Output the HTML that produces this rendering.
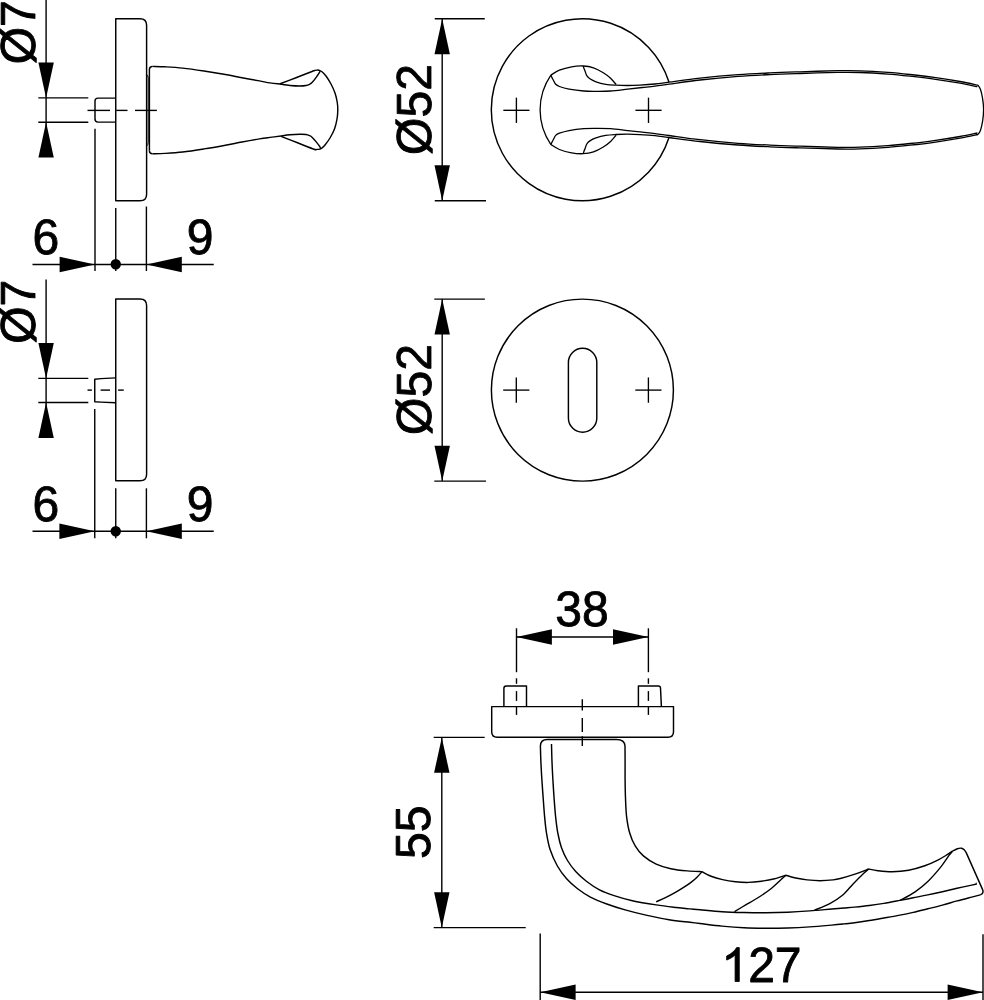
<!DOCTYPE html>
<html><head><meta charset="utf-8"><title>Drawing</title>
<style>
html,body{margin:0;padding:0;background:#fff;}
body{width:984px;height:1000px;overflow:hidden;}
svg{display:block;will-change:transform;}
.m{fill:none;stroke:#000;stroke-width:1.45;stroke-linejoin:round;stroke-linecap:butt;}
.d{fill:none;stroke:#000;stroke-width:1.3;}
.n{fill:none;stroke:#000;stroke-width:1.3;}
.t{fill:none;stroke:#000;stroke-width:1.4;}
.c{fill:none;stroke:#000;stroke-width:1.0;}
.x{fill:none;stroke:#000;stroke-width:1.35;}
.f{fill:#000;stroke:none;}
.g{fill:#000;stroke:#000;stroke-width:35;stroke-linejoin:round;}
text{font-family:"Liberation Sans",sans-serif;fill:#000;stroke:#000;stroke-width:0.8;stroke-linejoin:round;text-rendering:geometricPrecision;}
</style></head><body>
<svg width="984" height="1000" viewBox="0 0 984 1000">
<rect x="0" y="0" width="984" height="1000" fill="#fff"/>
<path class="m" d="M115.75,18.75 H140 Q146.6,18.75 146.6,25.35 V194.15 Q146.6,200.75 140,200.75 H115.75 Z"/>
<path class="m" d="M115.75,98.1 H98 Q95,98.1 95,101.1 V119.1 Q95,122.1 98,122.1 H115.75"/>
<path class="t" d="M87.50,110.40 L110.00,110.40"/>
<path class="t" d="M116.25,110.40 L127.50,110.40"/>
<path class="t" d="M135.00,110.40 L156.90,110.40"/>
<path class="m" d="M149.4,150.8 V69.4 Q149.4,66.4 152.5,66.4"/>
<path class="m" d="M149.4,150.8 Q149.4,153.8 152.5,153.8"/>
<path class="m" d="M152.50,66.40 C154.58,66.47 159.97,66.52 165.00,66.80 C170.03,67.08 176.20,67.40 182.70,68.10 C189.20,68.80 196.88,69.93 204.00,71.00 C211.12,72.07 219.07,73.38 225.40,74.50 C231.73,75.62 236.32,76.63 242.00,77.70 C247.68,78.77 254.83,80.03 259.50,80.90 C264.17,81.77 266.67,82.38 270.00,82.90 C273.33,83.42 277.92,83.82 279.50,84.00"/>
<path class="m" d="M152.50,153.80 C154.58,153.73 159.97,153.70 165.00,153.40 C170.03,153.10 176.20,152.75 182.70,152.00 C189.20,151.25 196.88,150.03 204.00,148.90 C211.12,147.77 219.07,146.35 225.40,145.20 C231.73,144.05 236.32,143.05 242.00,142.00 C247.68,140.95 254.83,139.67 259.50,138.90 C264.17,138.13 266.42,137.88 270.00,137.40 C273.58,136.92 279.17,136.23 281.00,136.00"/>
<path class="m" d="M279.50,84.00 C281.25,84.25 286.58,85.17 290.00,85.50 C293.42,85.83 297.33,86.00 300.00,86.00 C302.67,86.00 304.42,85.78 306.00,85.50 C307.58,85.22 308.50,84.78 309.50,84.30 C310.50,83.82 310.92,83.72 312.00,82.60 C313.08,81.48 314.75,79.32 316.00,77.60 C317.25,75.88 318.78,73.42 319.50,72.30 C320.22,71.18 320.17,71.13 320.30,70.90"/>
<path class="m" d="M281.00,136.00 C282.50,135.80 286.83,135.08 290.00,134.80 C293.17,134.52 297.33,134.35 300.00,134.30 C302.67,134.25 304.42,134.28 306.00,134.50 C307.58,134.72 308.50,135.15 309.50,135.60 C310.50,136.05 310.92,136.20 312.00,137.20 C313.08,138.20 314.75,140.10 316.00,141.60 C317.25,143.10 318.73,145.03 319.50,146.20 C320.27,147.37 320.42,148.20 320.60,148.60"/>
<path class="m" d="M279.50,84.00 C282.25,82.95 290.58,79.78 296.00,77.70 C301.42,75.62 308.83,72.72 312.00,71.50 C315.17,70.28 314.17,70.63 315.00,70.40 C315.83,70.17 316.33,70.12 317.00,70.10 C317.67,70.08 318.17,70.02 319.00,70.30 C319.83,70.58 320.83,70.85 322.00,71.80 C323.17,72.75 324.50,73.97 326.00,76.00 C327.50,78.03 329.50,81.17 331.00,84.00 C332.50,86.83 333.97,90.00 335.00,93.00 C336.03,96.00 336.73,99.17 337.20,102.00 C337.67,104.83 337.83,107.17 337.80,110.00 C337.77,112.83 337.55,115.83 337.00,119.00 C336.45,122.17 335.67,125.83 334.50,129.00 C333.33,132.17 331.58,135.33 330.00,138.00 C328.42,140.67 326.33,143.33 325.00,145.00 C323.67,146.67 322.83,147.32 322.00,148.00 C321.17,148.68 320.83,148.87 320.00,149.10 C319.17,149.33 318.00,149.38 317.00,149.40 C316.00,149.42 317.25,150.30 314.00,149.20 C310.75,148.10 303.00,144.93 297.50,142.80 C292.00,140.67 283.75,137.47 281.00,136.40"/>
<path class="c" d="M146.6,74.4 Q148.2,75.4 148.2,78 V142.4 Q148.2,145 146.6,146"/>
<path class="t" d="M46.10,0.00 L46.10,157.00"/>
<path class="f" d="M46.10,97.90 L38.40,62.50 L53.80,62.50 Z"/>
<path class="f" d="M46.10,122.20 L53.80,157.60 L38.40,157.60 Z"/>
<path class="t" d="M38.30,97.90 L88.30,97.90"/>
<path class="t" d="M38.30,122.20 L88.30,122.20"/>
<path class="t" d="M95.00,128.75 L95.00,271.00"/>
<path class="t" d="M115.75,208.00 L115.75,271.00"/>
<path class="t" d="M146.40,206.50 L146.40,271.00"/>
<path class="t" d="M32.50,264.50 L213.75,264.50"/>
<path class="f" d="M95.00,264.50 L59.60,272.20 L59.60,256.80 Z"/>
<path class="f" d="M146.40,264.50 L181.80,256.80 L181.80,272.20 Z"/>
<circle class="f" cx="115.75" cy="264.3" r="5.2"/>
<text transform="translate(45.90,253.90) rotate(0) scale(1.045,1.08)" text-anchor="middle" font-size="46">6</text>
<text transform="translate(200.00,253.90) rotate(0) scale(1.045,1.08)" text-anchor="middle" font-size="46">9</text>
<text transform="translate(35.00,32.30) rotate(-90) scale(1.045,1.07)" text-anchor="middle" font-size="46">Ø7</text>
<path class="m" d="M115.75,299.00 H140 Q146.6,299.00 146.6,305.60 V474.15 Q146.6,480.75 140,480.75 H115.75 Z"/>
<path class="m" d="M115.75,377.9 L101,378.6 L94.75,379.3 V401.8 L101,402.1 L115.75,402.7"/>
<path class="t" d="M87.50,390.10 L91.90,390.10"/>
<path class="t" d="M100.60,390.10 L110.00,390.10"/>
<path class="t" d="M118.10,390.10 L123.75,390.10"/>
<path class="t" d="M46.10,279.40 L46.10,437.50"/>
<path class="f" d="M46.10,378.40 L38.40,343.00 L53.80,343.00 Z"/>
<path class="f" d="M46.10,402.50 L53.80,437.90 L38.40,437.90 Z"/>
<path class="t" d="M38.30,378.40 L88.30,378.40"/>
<path class="t" d="M38.30,402.50 L88.30,402.50"/>
<path class="t" d="M94.75,409.00 L94.75,538.30"/>
<path class="t" d="M115.75,488.30 L115.75,538.30"/>
<path class="t" d="M146.40,488.30 L146.40,538.30"/>
<path class="t" d="M32.50,531.30 L213.75,531.30"/>
<path class="f" d="M94.75,531.30 L59.35,539.00 L59.35,523.60 Z"/>
<path class="f" d="M146.40,531.30 L181.80,523.60 L181.80,539.00 Z"/>
<circle class="f" cx="115.75" cy="531.3" r="5.2"/>
<text transform="translate(45.90,520.90) rotate(0) scale(1.045,1.08)" text-anchor="middle" font-size="46">6</text>
<text transform="translate(200.00,520.90) rotate(0) scale(1.045,1.08)" text-anchor="middle" font-size="46">9</text>
<text transform="translate(35.00,311.80) rotate(-90) scale(1.045,1.07)" text-anchor="middle" font-size="46">Ø7</text>
<path class="m" d="M668.97,82.00 A91.00,91.00 0 1 0 668.90,137.70"/>
<path class="d" d="M583.20,66.00 C583.33,66.42 583.70,67.68 584.00,68.50 C584.30,69.32 584.53,69.70 585.00,70.90 C585.47,72.10 585.98,74.38 586.80,75.70 C587.62,77.02 588.37,77.78 589.90,78.80 C591.43,79.82 593.37,80.88 596.00,81.80 C598.63,82.72 602.35,83.73 605.70,84.30 C609.05,84.87 612.43,85.00 616.10,85.20 C619.77,85.40 623.73,85.52 627.70,85.50 C631.67,85.48 635.35,85.35 639.90,85.10 C644.45,84.85 650.15,84.48 655.00,84.00 C659.85,83.52 661.50,83.17 669.00,82.20 C676.50,81.23 688.50,79.45 700.00,78.20 C711.50,76.95 726.33,75.58 738.00,74.70 C749.67,73.82 759.67,73.38 770.00,72.90 C780.33,72.42 788.67,72.17 800.00,71.80 C811.33,71.43 828.00,70.87 838.00,70.70 C848.00,70.53 851.67,70.52 860.00,70.80 C868.33,71.08 879.67,71.78 888.00,72.40 C896.33,73.02 902.33,73.67 910.00,74.50 C917.67,75.33 925.67,76.23 934.00,77.40 C942.33,78.57 952.67,80.20 960.00,81.50 C967.33,82.80 975.00,84.58 978.00,85.20"/>
<path class="d" d="M550.90,75.10 C551.08,75.52 551.60,76.78 552.00,77.60 C552.40,78.42 552.68,78.88 553.30,80.00 C553.92,81.12 554.68,83.22 555.70,84.30 C556.72,85.38 557.17,85.70 559.40,86.50 C561.63,87.30 565.03,88.35 569.10,89.10 C573.17,89.85 579.32,90.63 583.80,91.00 C588.28,91.37 591.53,91.30 596.00,91.30 C600.47,91.30 605.32,91.37 610.60,91.00 C615.88,90.63 622.42,89.68 627.70,89.10 C632.98,88.52 637.75,88.00 642.30,87.50 C646.85,87.00 650.55,86.65 655.00,86.10 C659.45,85.55 661.50,85.22 669.00,84.20 C676.50,83.18 688.50,81.30 700.00,80.00 C711.50,78.70 726.33,77.30 738.00,76.40 C749.67,75.50 759.67,75.08 770.00,74.60 C780.33,74.12 788.67,73.87 800.00,73.50 C811.33,73.13 828.00,72.57 838.00,72.40 C848.00,72.23 851.67,72.22 860.00,72.50 C868.33,72.78 879.67,73.48 888.00,74.10 C896.33,74.72 902.33,75.37 910.00,76.20 C917.67,77.03 925.67,77.93 934.00,79.10 C942.33,80.27 952.77,81.93 960.00,83.20 C967.23,84.47 974.50,86.12 977.40,86.70"/>
<path class="d" d="M583.20,153.70 C583.33,153.28 583.70,152.02 584.00,151.20 C584.30,150.38 584.53,150.00 585.00,148.80 C585.47,147.60 585.98,145.32 586.80,144.00 C587.62,142.68 588.37,141.92 589.90,140.90 C591.43,139.88 593.37,138.82 596.00,137.90 C598.63,136.98 602.35,135.97 605.70,135.40 C609.05,134.83 612.43,134.70 616.10,134.50 C619.77,134.30 623.73,134.18 627.70,134.20 C631.67,134.22 635.35,134.35 639.90,134.60 C644.45,134.85 650.15,135.22 655.00,135.70 C659.85,136.18 661.50,136.53 669.00,137.50 C676.50,138.47 688.50,140.25 700.00,141.50 C711.50,142.75 726.33,144.12 738.00,145.00 C749.67,145.88 759.67,146.32 770.00,146.80 C780.33,147.28 788.67,147.53 800.00,147.90 C811.33,148.27 828.00,148.83 838.00,149.00 C848.00,149.17 851.67,149.18 860.00,148.90 C868.33,148.62 879.67,147.92 888.00,147.30 C896.33,146.68 902.33,146.03 910.00,145.20 C917.67,144.37 925.67,143.47 934.00,142.30 C942.33,141.13 952.67,139.50 960.00,138.20 C967.33,136.90 975.00,135.12 978.00,134.50"/>
<path class="d" d="M550.90,144.60 C551.08,144.18 551.60,142.92 552.00,142.10 C552.40,141.28 552.68,140.82 553.30,139.70 C553.92,138.58 554.68,136.48 555.70,135.40 C556.72,134.32 557.17,134.00 559.40,133.20 C561.63,132.40 565.03,131.35 569.10,130.60 C573.17,129.85 579.32,129.07 583.80,128.70 C588.28,128.33 591.53,128.40 596.00,128.40 C600.47,128.40 605.32,128.33 610.60,128.70 C615.88,129.07 622.42,130.02 627.70,130.60 C632.98,131.18 637.75,131.70 642.30,132.20 C646.85,132.70 650.55,133.05 655.00,133.60 C659.45,134.15 661.50,134.48 669.00,135.50 C676.50,136.52 688.50,138.40 700.00,139.70 C711.50,141.00 726.33,142.40 738.00,143.30 C749.67,144.20 759.67,144.62 770.00,145.10 C780.33,145.58 788.67,145.83 800.00,146.20 C811.33,146.57 828.00,147.13 838.00,147.30 C848.00,147.47 851.67,147.48 860.00,147.20 C868.33,146.92 879.67,146.22 888.00,145.60 C896.33,144.98 902.33,144.33 910.00,143.50 C917.67,142.67 925.67,141.77 934.00,140.60 C942.33,139.43 952.77,137.77 960.00,136.50 C967.23,135.23 974.50,133.58 977.40,133.00"/>
<path class="n" d="M550.90,75.10 C552.32,74.28 555.95,71.58 559.40,70.20 C562.85,68.82 567.63,67.50 571.60,66.80 C575.57,66.10 579.55,65.83 583.20,66.00 C586.85,66.17 590.15,66.68 593.50,67.80 C596.85,68.92 600.45,70.97 603.30,72.70 C606.15,74.43 608.47,76.23 610.60,78.20 C612.73,80.17 615.18,83.45 616.10,84.50"/>
<path class="n" d="M550.90,144.60 C552.32,145.42 555.95,148.12 559.40,149.50 C562.85,150.88 567.63,152.20 571.60,152.90 C575.57,153.60 579.55,153.87 583.20,153.70 C586.85,153.53 590.15,153.02 593.50,151.90 C596.85,150.78 600.45,148.73 603.30,147.00 C606.15,145.27 608.47,143.47 610.60,141.50 C612.73,139.53 615.18,136.25 616.10,135.20"/>
<path class="n" d="M550.9,75.1 A61.3,61.3 0 0 0 550.9,144.6"/>
<path class="n" d="M978.00,85.20 C978.42,85.92 979.73,87.27 980.50,89.50 C981.27,91.73 982.08,95.21 982.60,98.60 C983.12,101.99 983.60,106.10 983.60,109.85 C983.60,113.60 983.12,117.71 982.60,121.10 C982.08,124.49 981.27,127.97 980.50,130.20 C979.73,132.43 978.42,133.78 978.00,134.50"/>
<path class="x" d="M503.30,110.30 L529.50,110.30"/>
<path class="x" d="M516.40,97.65 L516.40,122.95"/>
<path class="x" d="M635.40,110.30 L661.60,110.30"/>
<path class="x" d="M648.50,97.65 L648.50,122.95"/>
<path class="t" d="M442.20,18.75 L442.20,200.75"/>
<path class="f" d="M442.20,18.75 L449.90,54.15 L434.50,54.15 Z"/>
<path class="f" d="M442.20,200.75 L434.50,165.35 L449.90,165.35 Z"/>
<path class="t" d="M434.75,18.75 L484.75,18.75"/>
<path class="t" d="M434.75,200.75 L486.00,200.75"/>
<text transform="translate(431.00,109.50) rotate(-90) scale(1.045,1.07)" text-anchor="middle" font-size="46">Ø52</text>
<circle class="m" cx="582.4" cy="390.1" r="91"/>
<rect class="m" x="568.4" y="348.3" width="28.4" height="83.9" rx="14.2"/>
<path class="x" d="M503.20,390.10 L529.40,390.10"/>
<path class="x" d="M516.30,377.45 L516.30,402.75"/>
<path class="x" d="M635.30,390.10 L661.50,390.10"/>
<path class="x" d="M648.40,377.45 L648.40,402.75"/>
<path class="t" d="M442.20,299.10 L442.20,481.10"/>
<path class="f" d="M442.20,299.10 L449.90,334.50 L434.50,334.50 Z"/>
<path class="f" d="M442.20,481.10 L434.50,445.70 L449.90,445.70 Z"/>
<path class="t" d="M434.30,299.10 L484.90,299.10"/>
<path class="t" d="M434.30,481.10 L486.00,481.10"/>
<text transform="translate(431.00,389.50) rotate(-90) scale(1.045,1.07)" text-anchor="middle" font-size="46">Ø52</text>
<text transform="translate(582.00,626.00) rotate(0) scale(1.045,1.08)" text-anchor="middle" font-size="46">38</text>
<path class="t" d="M516.50,637.00 L648.40,637.00"/>
<path class="f" d="M516.50,637.00 L551.90,629.30 L551.90,644.70 Z"/>
<path class="f" d="M648.40,637.00 L613.00,644.70 L613.00,629.30 Z"/>
<path class="t" d="M516.50,628.30 L516.50,672.20"/>
<path class="t" d="M516.50,678.30 L516.50,683.80"/>
<path class="t" d="M516.50,691.10 L516.50,700.90"/>
<path class="t" d="M516.50,707.00 L516.50,714.90"/>
<path class="t" d="M648.40,628.30 L648.40,672.20"/>
<path class="t" d="M648.40,678.30 L648.40,683.80"/>
<path class="t" d="M648.40,691.10 L648.40,700.90"/>
<path class="t" d="M648.40,707.00 L648.40,714.90"/>
<path class="m" d="M503.9,706.6 V688.2 Q503.9,685.9 506.2,685.9 H526.5 V706.6"/>
<path class="m" d="M638.4,706.6 V685.9 H658.4 Q660.4,685.9 660.5,688 L661.4,706.6"/>
<path class="m" d="M491.7,706.6 H673.5 V731.7 Q673.5,737.2 668,737.2 H497.2 Q491.7,737.2 491.7,731.7 Z"/>
<path class="t" d="M582.30,699.30 L582.30,710.60"/>
<path class="t" d="M582.30,717.90 L582.30,732.00"/>
<path class="t" d="M582.30,736.20 L582.30,746.00"/>
<path class="m" d="M540.4,746 Q540.6,739.5 547.2,739.5 H616.5 Q624.6,739.5 625,746"/>
<path class="m" d="M540.40,746.00 C540.48,748.67 540.65,756.33 540.90,762.00 C541.15,767.67 541.52,773.95 541.90,780.00 C542.28,786.05 542.75,792.20 543.20,798.30 C543.65,804.40 544.05,810.82 544.60,816.60 C545.15,822.38 545.58,827.52 546.50,833.00 C547.42,838.48 548.28,844.00 550.10,849.50 C551.92,855.00 554.65,861.12 557.40,866.00 C560.15,870.88 563.23,875.00 566.60,878.80 C569.97,882.60 573.63,885.75 577.60,888.80 C581.57,891.85 585.53,894.57 590.40,897.10 C595.27,899.63 601.02,901.87 606.80,904.00 C612.58,906.13 618.38,908.00 625.10,909.90 C631.82,911.80 639.78,913.77 647.10,915.40 C654.42,917.03 661.85,918.55 669.00,919.70 C676.15,920.85 684.83,921.67 690.00,922.30 C695.17,922.93 694.67,922.87 700.00,923.50 C705.33,924.13 714.68,925.38 722.00,926.10 C729.32,926.82 736.58,927.43 743.90,927.80 C751.22,928.17 758.58,928.27 765.90,928.30 C773.22,928.33 780.48,928.23 787.80,928.00 C795.12,927.77 802.48,927.38 809.80,926.90 C817.12,926.42 826.00,925.60 831.70,925.10 C837.40,924.60 840.18,924.30 844.00,923.90 C847.82,923.50 850.38,923.27 854.60,922.70 C858.82,922.13 864.42,921.28 869.30,920.50 C874.18,919.72 879.03,918.85 883.90,918.00 C888.77,917.15 893.62,916.33 898.50,915.40 C903.38,914.47 908.32,913.50 913.20,912.40 C918.08,911.30 922.93,910.02 927.80,908.80 C932.67,907.58 937.52,906.42 942.40,905.10 C947.28,903.78 952.22,902.23 957.10,900.90 C961.98,899.57 967.83,898.10 971.70,897.10 C975.57,896.10 978.87,895.27 980.30,894.90"/>
<path class="m" d="M551.50,744.10 C551.58,747.08 551.77,756.02 552.00,762.00 C552.23,767.98 552.55,773.95 552.90,780.00 C553.25,786.05 553.65,792.20 554.10,798.30 C554.55,804.40 554.98,810.82 555.60,816.60 C556.22,822.38 556.82,827.82 557.80,833.00 C558.78,838.18 559.88,843.12 561.50,847.70 C563.12,852.28 565.13,856.53 567.50,860.50 C569.87,864.47 572.50,868.00 575.70,871.50 C578.90,875.00 582.73,878.45 586.70,881.50 C590.67,884.55 594.93,887.45 599.50,889.80 C604.07,892.15 608.62,893.78 614.10,895.60 C619.58,897.42 625.38,899.15 632.40,900.70 C639.42,902.25 648.88,903.77 656.20,904.90 C663.52,906.03 670.67,906.83 676.30,907.50 C681.93,908.17 686.05,908.52 690.00,908.90 C693.95,909.28 694.67,909.33 700.00,909.80 C705.33,910.27 714.68,911.25 722.00,911.70 C729.32,912.15 736.58,912.33 743.90,912.50 C751.22,912.67 758.58,912.75 765.90,912.70 C773.22,912.65 780.48,912.50 787.80,912.20 C795.12,911.90 802.48,911.43 809.80,910.90 C817.12,910.37 826.00,909.48 831.70,909.00 C837.40,908.52 840.18,908.32 844.00,908.00 C847.82,907.68 850.38,907.52 854.60,907.10 C858.82,906.68 864.42,906.12 869.30,905.50 C874.18,904.88 878.78,904.25 883.90,903.40 C889.02,902.55 895.12,901.33 900.00,900.40 C904.88,899.47 908.57,898.72 913.20,897.80 C917.83,896.88 922.93,895.92 927.80,894.90 C932.67,893.88 937.52,892.80 942.40,891.70 C947.28,890.60 952.22,889.40 957.10,888.30 C961.98,887.20 968.42,885.82 971.70,885.10 C974.98,884.38 975.95,884.18 976.80,884.00"/>
<path class="m" d="M625.00,746.00 C625.02,748.67 625.08,756.33 625.10,762.00 C625.12,767.67 625.03,773.95 625.10,780.00 C625.17,786.05 625.25,792.20 625.50,798.30 C625.75,804.40 625.90,810.82 626.60,816.60 C627.30,822.38 628.27,828.12 629.70,833.00 C631.13,837.88 632.92,842.08 635.20,845.90 C637.48,849.72 639.90,852.87 643.40,855.90 C646.90,858.93 651.63,861.97 656.20,864.10 C660.77,866.23 665.62,867.57 670.80,868.70 C675.98,869.83 682.12,870.42 687.30,870.90 C692.48,871.38 699.47,871.48 701.90,871.60"/>
<path class="m" d="M701.90,871.60 C703.43,872.38 707.67,874.97 711.10,876.30 C714.53,877.63 718.43,878.70 722.50,879.60 C726.57,880.50 731.17,881.23 735.50,881.70 C739.83,882.17 744.17,882.48 748.50,882.40 C752.83,882.32 757.15,881.80 761.50,881.20 C765.85,880.60 770.53,879.80 774.60,878.80 C778.67,877.80 784.02,875.80 785.90,875.20"/>
<path class="m" d="M785.90,875.20 C787.53,875.67 792.17,877.22 795.70,878.00 C799.23,878.78 803.03,879.45 807.10,879.90 C811.17,880.35 815.77,880.70 820.10,880.70 C824.43,880.70 829.73,880.27 833.10,879.90 C836.47,879.53 836.40,879.55 840.30,878.50 C844.20,877.45 851.77,875.18 856.50,873.60 C861.23,872.02 866.67,869.77 868.70,869.00"/>
<path class="m" d="M868.70,869.00 C870.20,869.28 873.77,870.23 877.70,870.70 C881.63,871.17 887.15,871.87 892.30,871.80 C897.45,871.73 903.18,871.30 908.60,870.30 C914.02,869.30 919.93,867.50 924.80,865.80 C929.67,864.10 934.00,862.00 937.80,860.10 C941.60,858.20 945.15,855.90 947.60,854.40 C950.05,852.90 951.68,851.65 952.50,851.10"/>
<path class="t" d="M656.20,901.80 C657.83,901.07 662.65,899.05 666.00,897.40 C669.35,895.75 673.30,893.60 676.30,891.90 C679.30,890.20 681.55,888.78 684.00,887.20 C686.45,885.62 688.83,884.07 691.00,882.40 C693.17,880.73 695.18,878.97 697.00,877.20 C698.82,875.43 701.08,872.70 701.90,871.80"/>
<path class="t" d="M734.50,911.60 C736.30,910.53 741.33,907.55 745.30,905.20 C749.27,902.85 753.97,900.28 758.30,897.50 C762.63,894.72 767.50,891.48 771.30,888.50 C775.10,885.52 778.67,881.82 781.10,879.60 C783.53,877.38 785.10,875.93 785.90,875.20"/>
<path class="t" d="M814.50,910.20 C817.05,909.10 825.08,906.13 829.80,903.60 C834.52,901.07 838.88,898.32 842.80,895.00 C846.72,891.68 849.93,887.22 853.30,883.70 C856.67,880.18 860.43,876.35 863.00,873.90 C865.57,871.45 867.75,869.82 868.70,869.00"/>
<path class="t" d="M900.00,900.40 C902.52,898.97 910.42,895.00 915.10,891.80 C919.78,888.60 923.77,885.40 928.10,881.20 C932.43,877.00 937.58,870.93 941.10,866.60 C944.62,862.27 947.30,857.78 949.20,855.20 C951.10,852.62 951.95,851.78 952.50,851.10"/>
<path class="m" d="M952.50,851.10 C953.30,850.70 955.82,849.18 957.30,848.70 C958.78,848.22 960.25,848.02 961.40,848.20 C962.55,848.38 963.40,849.07 964.20,849.80 C965.00,850.53 965.87,852.13 966.20,852.60 L982.5,889.4 Q984.2,893.4 980.3,894.9"/>
<circle class="f" cx="976.2" cy="883.2" r="0.6"/>
<path class="t" d="M441.80,737.40 L441.80,927.60"/>
<path class="f" d="M441.80,737.40 L449.50,772.80 L434.10,772.80 Z"/>
<path class="f" d="M441.80,927.60 L434.10,892.20 L449.50,892.20 Z"/>
<path class="t" d="M433.70,737.40 L484.70,737.40"/>
<path class="t" d="M433.70,927.60 L525.70,927.60"/>
<text transform="translate(430.30,832.30) rotate(-90) scale(1.045,1.07)" text-anchor="middle" font-size="46">55</text>
<path class="t" d="M540.20,933.50 L540.20,1000.00"/>
<path class="t" d="M983.00,934.20 L983.00,1000.00"/>
<path class="t" d="M540.20,992.20 L983.00,992.20"/>
<path class="f" d="M540.20,992.20 L575.60,984.50 L575.60,999.90 Z"/>
<path class="f" d="M983.00,992.20 L947.60,999.90 L947.60,984.50 Z"/>
<path class="g" transform="translate(721.40,981.50) scale(0.02347,-0.02304)" d="M763,0 H583 V1147 Q518,1085 412.5,1023 Q307,961 223,930 V1104 Q374,1175 487,1276 Q600,1377 647,1472 H763 Z"/>
<text transform="translate(748.13,981.50) rotate(0) scale(1.045,1.08)" text-anchor="start" font-size="46">27</text>
</svg>
</body></html>
